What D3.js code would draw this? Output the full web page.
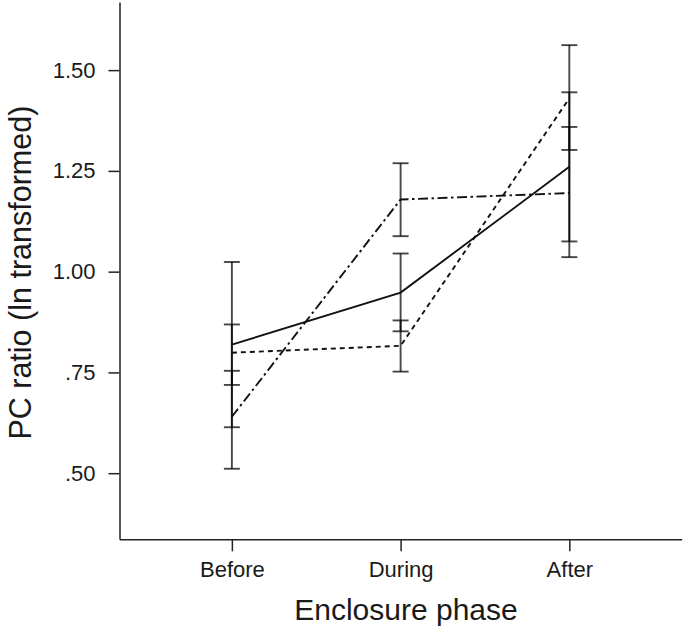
<!DOCTYPE html>
<html>
<head>
<meta charset="utf-8">
<script src="https://cdn.jsdelivr.net/npm/d3@7"></script>
<style>
  html, body { margin: 0; padding: 0; background: #fff; }
  svg { display: block; }
  text { font-family: "Liberation Sans", Arial, Helvetica, sans-serif; fill: #1a1a1a; }
</style>
</head>
<body>
<svg id="chart" width="685" height="632"></svg>
<script>
// ---- Data ----
const phases = ["Before", "During", "After"];

const seriesNames = ["Group 1", "Group 2", "Group 3"];

// Group 1 (solid line)
const solidMean = [0.819, 0.948, 1.260];
const solidLow  = [0.614, 0.852, 1.075];
const solidHigh = [1.024, 1.045, 1.445];

// Group 2 (dashed line)
const dashedMean = [0.799, 0.816, 1.430];
const dashedLow  = [0.719, 0.752, 1.302];
const dashedHigh = [0.869, 0.879, 1.562];

// Group 3 (dash-dot line)
const dashDotMean = [0.640, 1.179, 1.195];
const dashDotLow  = [0.511, 1.088, 1.036];
const dashDotHigh = [0.754, 1.269, 1.359];

const yTickValues = [0.50, 0.75, 1.00, 1.25, 1.50];
const yTickLabels = [".50", ".75", "1.00", "1.25", "1.50"];

const xTitle = "Enclosure phase";
const yTitle = "PC ratio (ln transformed)";

// ---- Layout ----
const W = 685, H = 632;
const margin = { left: 119.5, top: 2, right: 3.3, bottom: 92.7 };

const svg = d3.select("#chart");

const x = d3.scalePoint()
  .domain(phases)
  .range([margin.left, W - margin.right])
  .padding(0.666);

const y = d3.scaleLinear()
  .domain([0.336, 1.669])
  .range([H - margin.bottom, margin.top]);

const series = [
  { name: seriesNames[0], mean: solidMean, low: solidLow, high: solidHigh, dash: null },
  { name: seriesNames[1], mean: dashedMean, low: dashedLow, high: dashedHigh, dash: "5,4" },
  { name: seriesNames[2], mean: dashDotMean, low: dashDotLow, high: dashDotHigh, dash: "10,3.5,2.5,3.5" }
];

// ---- Axes ----
const axisColor = "#222";

const yAxis = d3.axisLeft(y)
  .tickValues(yTickValues)
  .tickFormat((d, i) => yTickLabels[i])
  .tickSize(11)
  .tickSizeOuter(0)
  .tickPadding(13);

const gy = svg.append("g")
  .attr("transform", `translate(${margin.left},0)`)
  .call(yAxis);
gy.selectAll("text").style("font-size", "22px");

const xAxis = d3.axisBottom(x)
  .tickSize(12)
  .tickSizeOuter(0)
  .tickPadding(10);

const gx = svg.append("g")
  .attr("transform", `translate(0,${H - margin.bottom})`)
  .call(xAxis);
gx.selectAll("text").style("font-size", "22px");

[gx, gy].forEach(g => {
  g.select(".domain").attr("stroke", axisColor).attr("stroke-width", 1.5);
  g.selectAll(".tick line").attr("stroke", axisColor).attr("stroke-width", 1.5);
  g.selectAll("text").attr("fill", "#1a1a1a");
});

// Axis titles
svg.append("text")
  .attr("x", 406)
  .attr("y", 620)
  .attr("text-anchor", "middle")
  .style("font-size", "30px")
  .text(xTitle);

svg.append("text")
  .attr("transform", `translate(31,${(margin.top + H - margin.bottom) / 2 + 2}) rotate(-90)`)
  .attr("text-anchor", "middle")
  .style("font-size", "30.5px")
  .text(yTitle);

// ---- Error bars ----
const capHalf = 8;
const eb = svg.append("g").attr("class", "errorbars");
series.forEach(s => {
  phases.forEach((p, i) => {
    const cx = x(p);
    const g = eb.append("g");
    g.append("line")
      .attr("x1", cx).attr("x2", cx)
      .attr("y1", y(s.low[i])).attr("y2", y(s.high[i]));
    g.append("line")
      .attr("x1", cx - capHalf).attr("x2", cx + capHalf)
      .attr("y1", y(s.high[i])).attr("y2", y(s.high[i]));
    g.append("line")
      .attr("x1", cx - capHalf).attr("x2", cx + capHalf)
      .attr("y1", y(s.low[i])).attr("y2", y(s.low[i]));
  });
});
eb.selectAll("line")
  .attr("stroke", "#000")
  .attr("stroke-opacity", 0.72)
  .attr("stroke-width", 1.9);

// ---- Mean lines ----
const line = d3.line()
  .x((d, i) => x(phases[i]))
  .y(d => y(d));

series.forEach(s => {
  svg.append("path")
    .datum(s.mean)
    .attr("d", line)
    .attr("fill", "none")
    .attr("stroke", "#111")
    .attr("stroke-width", 1.9)
    .attr("stroke-dasharray", s.dash);
});
</script>
</body>
</html>
